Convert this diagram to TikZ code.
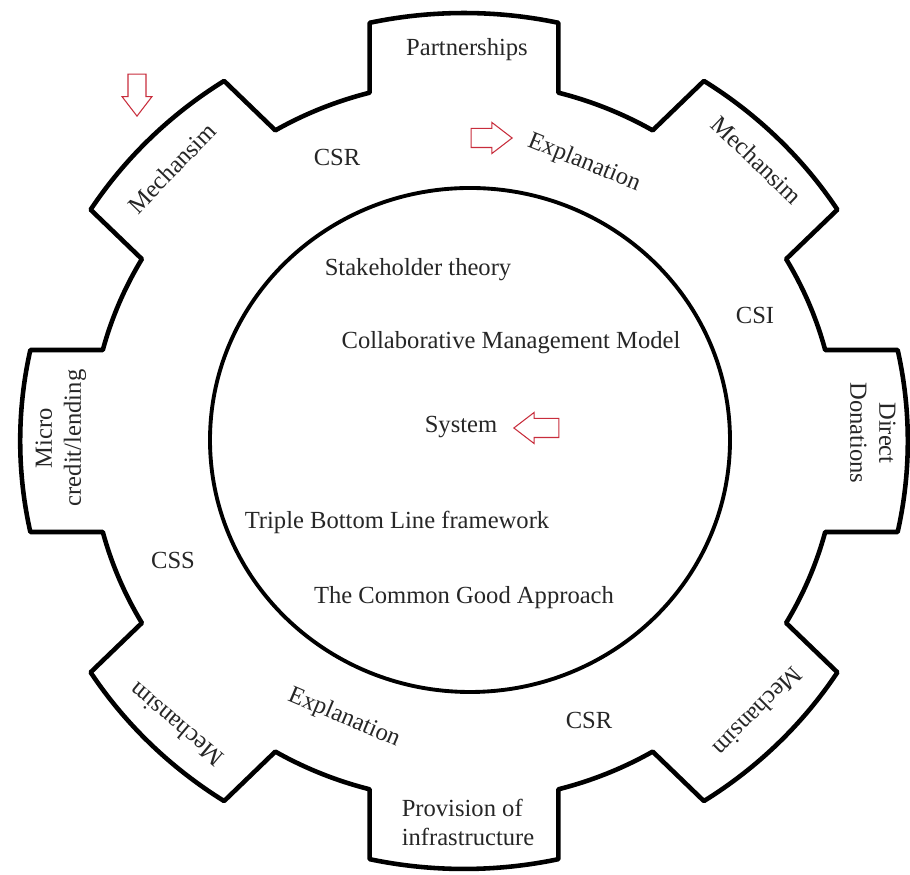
\documentclass[tikz,border=0pt]{standalone}
\usepackage{fontspec}
\setmainfont{Liberation Serif}
\usepackage{tikz}
\usetikzlibrary{shapes.arrows}
\definecolor{arrowred}{RGB}{200,45,60}
\tikzset{
        gearline/.style={draw=black, line width=2.6pt, line join=round},
        ringline/.style={draw=black, line width=2.2pt},
        lbl/.style={font=\fontsize{14}{16.5}\selectfont, inner sep=0pt, text=black!85},
        redarrow/.style={single arrow, draw=arrowred, fill=white, line width=0.6pt, inner xsep=0pt, inner ysep=0.18cm, single arrow head extend=0.12cm, single arrow tip angle=75},
    }

\begin{document}
\begin{tikzpicture}[x=0.02cm, y=0.02cm]

        \useasboundingbox (0,0) rectangle (910,875);

        % === GEAR ===
        \begin{scope}[shift={(464,434)}, xscale=1.037]
            \draw[gearline] (-14.64:360)
                \foreach \a in {0,45,...,315} {
                    -- (\a-12.28:428) arc[start angle=\a-12.28, end angle=\a+12.28, radius=428]
                    -- (\a+14.64:360) arc[start angle=\a+14.64, end angle=\a+30.36, radius=360]
                } -- cycle;
        \end{scope}

        % === INNER CIRCLE ===
        \draw[ringline] (470,435) ellipse [x radius=260, y radius=252];

        % === TEETH ===
        \node[lbl] (partner) at (467,825) {Partnerships};
        \node[lbl, rotate=46] (mechul) at (172,707) {Mechansim};
        \node[lbl, rotate=-44] (mechur) at (757,715) {Mechansim};
        \node[lbl, rotate=-90, align=center] (donate) at (873,442) {Direct\\Donations};
        \node[lbl, rotate=90, align=center] (micro) at (61,437) {Micro\\credit/lending};
        \node[lbl, rotate=140] (mechll) at (176,150) {Mechansim};
        \node[lbl, rotate=225] (mechlr) at (758,163) {Mechansim};
        \node[lbl, align=left] (infra) at (468,53) {Provision of\\infrastructure};

        % === RING ===
        \node[lbl] (csrtop) at (337,718) {CSR};
        \node[lbl, rotate=-22] (explup) at (584,712) {Explanation};
        \node[lbl] (csi) at (755,560) {CSI};
        \node[lbl] (css) at (173,315) {CSS};
        \node[lbl, rotate=-23] (expllow) at (344,157) {Explanation};
        \node[lbl] (csrlow) at (589,155) {CSR};

        % === CENTRE ===
        \node[lbl] (stake) at (418,605) {Stakeholder theory};
        \node[lbl] (collab) at (511,532) {Collaborative Management Model};
        \node[lbl] (system) at (461,448) {System};
        \node[lbl] (triple) at (397,353) {Triple Bottom Line framework};
        \node[lbl] (common) at (464,277) {The Common Good Approach};

        % red hollow arrows
        \node[redarrow, inner xsep=0.17cm, inner ysep=0pt, minimum height=0.84cm, shape border rotate=270, anchor=tip] (arrdown) at (137,758) {};
        \node[redarrow, minimum height=0.82cm, anchor=tip] (arrright) at (513,737) {};
        \node[redarrow, minimum height=0.9cm, shape border rotate=180, anchor=tip] (arrleft) at (513,447) {};

    \end{tikzpicture}
\end{document}
